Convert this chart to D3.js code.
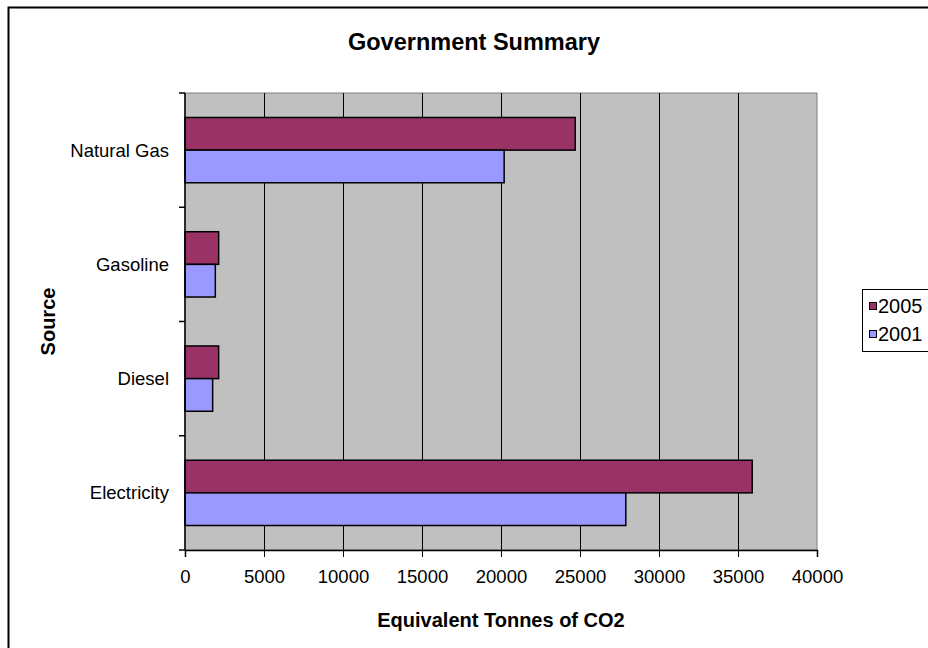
<!DOCTYPE html>
<html>
<head>
<meta charset="utf-8">
<script src="https://cdn.jsdelivr.net/npm/d3@7"></script>
<style>
  html, body { margin: 0; padding: 0; background: #fff; overflow: hidden; }
  svg { display: block; font-family: Arial, "Liberation Sans", sans-serif; }
</style>
</head>
<body>
<div id="grafico"></div>
<script>
// Data
const categories = ["Natural Gas", "Gasoline", "Diesel", "Electricity"];
const seriesNames = ["2005", "2001"];
const values2005 = [24700, 2130, 2130, 35900];
const values2001 = [20200, 1920, 1750, 27900];
const xTicks = [0, 5000, 10000, 15000, 20000, 25000, 30000, 35000, 40000];
const colors = ["#993366", "#9999FF"];

const width = 928;
const height = 648;
const marginTop = 93;
const marginRight = 111;
const marginBottom = 98;
const marginLeft = 185;

const svg = d3
  .select("#grafico")
  .append("svg")
  .attr("width", width)
  .attr("height", height);

// Chart area border (right and bottom edges fall outside the picture)
svg
  .append("rect")
  .attr("x", 8.5)
  .attr("y", 7.5)
  .attr("width", 1000)
  .attr("height", 1000)
  .attr("fill", "#fff")
  .attr("stroke", "#000")
  .attr("stroke-width", 2);

const x = d3
  .scaleLinear()
  .domain([0, 40000])
  .range([marginLeft, width - marginRight]);

// Excel gap width 150%: bars are 1 unit each, gap 1.5 units
const gap = 1.5 / 3.5;
const y = d3
  .scaleBand()
  .domain(categories)
  .range([marginTop, height - marginBottom])
  .paddingInner(gap)
  .paddingOuter(gap / 2);

const ySeries = d3.scaleBand().domain(seriesNames).range([0, y.bandwidth()]);

const rows = categories.map((c, i) => ({
  name: c,
  values: [
    { key: "2005", value: values2005[i] },
    { key: "2001", value: values2001[i] },
  ],
}));

// Plot area
svg
  .append("rect")
  .attr("x", x(0))
  .attr("y", marginTop)
  .attr("width", x(40000) - x(0))
  .attr("height", height - marginBottom - marginTop)
  .attr("fill", "#C0C0C0")
  .attr("stroke", "#808080")
  .attr("stroke-width", 1);

// Vertical gridlines
svg
  .append("g")
  .attr("stroke", "#000")
  .attr("stroke-width", 1)
  .selectAll("line")
  .data(xTicks.slice(1, -1))
  .join("line")
  .attr("x1", (d) => Math.round(x(d)) + 0.5)
  .attr("x2", (d) => Math.round(x(d)) + 0.5)
  .attr("y1", marginTop)
  .attr("y2", height - marginBottom);

// Bars
const gBars = svg
  .append("g")
  .selectAll("g")
  .data(rows)
  .join("g")
  .attr("transform", (d) => `translate(0,${y(d.name)})`);

gBars
  .selectAll("rect")
  .data((d) => d.values)
  .join("rect")
  .attr("x", x(0))
  .attr("y", (d) => ySeries(d.key))
  .attr("width", (d) => x(d.value) - x(0))
  .attr("height", ySeries.bandwidth())
  .attr("fill", (d, i) => colors[i])
  .attr("stroke", "#000")
  .attr("stroke-width", 1.5);

// X axis
const xAxis = svg
  .append("g")
  .attr("transform", `translate(0,${height - marginBottom})`)
  .call(
    d3
      .axisBottom(x)
      .tickValues(xTicks)
      .tickSize(7)
      .tickPadding(13)
      .tickFormat(d3.format("d"))
  );
xAxis.select(".domain").attr("stroke", "#000").attr("stroke-width", 1.5);
xAxis
  .selectAll("text")
  .attr("font-family", "Arial, 'Liberation Sans', sans-serif")
  .attr("font-size", 18.5)
  .attr("fill", "#000");

// Y axis: ticks sit on the category boundaries
const yAxis = svg.append("g").attr("transform", `translate(${marginLeft},0)`);
yAxis
  .append("line")
  .attr("x1", 0)
  .attr("x2", 0)
  .attr("y1", marginTop)
  .attr("y2", height - marginBottom)
  .attr("stroke", "#000")
  .attr("stroke-width", 1.5);

const bounds = d3.range(categories.length + 1).map(
  (i) => marginTop + i * y.step()
);
yAxis
  .selectAll(".tick")
  .data(bounds)
  .join("line")
  .attr("x1", -6)
  .attr("x2", 0)
  .attr("y1", (d) => d)
  .attr("y2", (d) => d)
  .attr("stroke", "#000")
  .attr("stroke-width", 1.5);

yAxis
  .selectAll("text")
  .data(categories)
  .join("text")
  .attr("x", -16)
  .attr("y", (d) => y(d) + y.bandwidth() / 2)
  .attr("dy", "0.35em")
  .attr("text-anchor", "end")
  .attr("font-size", 18.5)
  .text((d) => d);

// Titles
svg
  .append("text")
  .attr("x", 474)
  .attr("y", 50)
  .attr("text-anchor", "middle")
  .attr("font-size", 23.5)
  .attr("font-weight", "bold")
  .text("Government Summary");

svg
  .append("text")
  .attr("x", (x(0) + x(40000)) / 2)
  .attr("y", 627)
  .attr("text-anchor", "middle")
  .attr("font-size", 20)
  .attr("font-weight", "bold")
  .text("Equivalent Tonnes of CO2");

svg
  .append("text")
  .attr("transform", `translate(55,${(marginTop + height - marginBottom) / 2}) rotate(-90)`)
  .attr("text-anchor", "middle")
  .attr("font-size", 20)
  .attr("font-weight", "bold")
  .text("Source");

// Legend
const legend = svg.append("g").attr("transform", "translate(862,289)");
legend
  .append("rect")
  .attr("x", 0.5)
  .attr("y", 0.5)
  .attr("width", 120)
  .attr("height", 62)
  .attr("fill", "#fff")
  .attr("stroke", "#000")
  .attr("stroke-width", 1);

const legendItem = legend
  .selectAll(".item")
  .data(seriesNames)
  .join("g")
  .attr("transform", (d, i) => `translate(0,${17 + i * 28})`);

legendItem
  .append("rect")
  .attr("x", 7.5)
  .attr("y", -3.5)
  .attr("width", 7)
  .attr("height", 7)
  .attr("fill", (d, i) => colors[i])
  .attr("stroke", "#000")
  .attr("stroke-width", 1);

legendItem
  .append("text")
  .attr("x", 16)
  .attr("dy", "0.35em")
  .attr("font-size", 20)
  .text((d) => d);
</script>
</body>
</html>
